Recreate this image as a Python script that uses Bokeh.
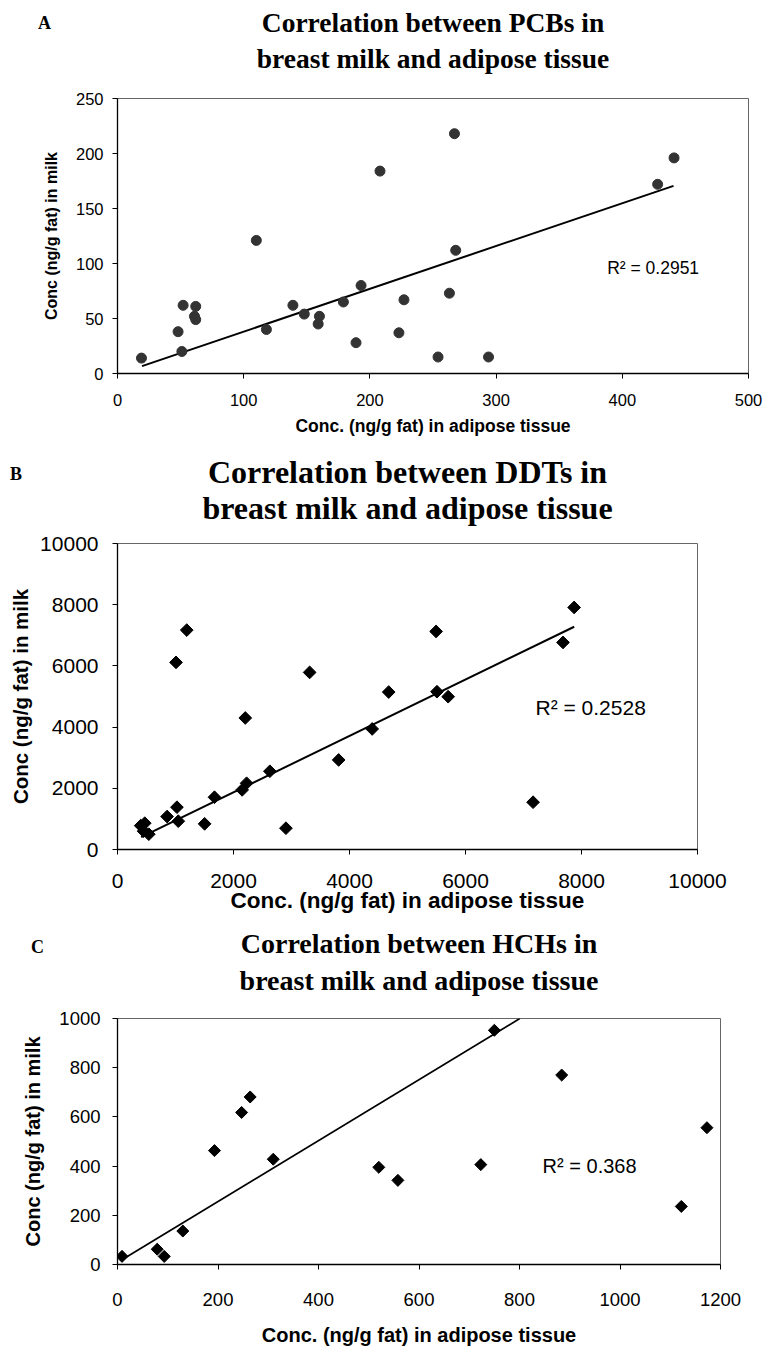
import numpy as np
from bokeh.plotting import figure
from bokeh.models import Label, FixedTicker, Range1d, Title
from bokeh.embed import file_html
from bokeh.resources import INLINE

# ---------------- data ----------------
# Panel A: PCBs
pcb_adipose = [19, 48, 51, 52, 62, 61, 62, 110, 118, 139, 148, 160, 159, 179,
               189, 193, 208, 223, 227, 254, 263, 267, 268, 294, 428, 441]
pcb_milk = [14, 38, 20, 62, 61, 52, 49, 121, 40, 62, 54, 52, 45, 65,
            28, 80, 184, 37, 67, 15, 73, 218, 112, 15, 172, 196]
pcb_trend_x = [19.4, 440.6]
pcb_trend_y = [6.7, 170.6]
pcb_r2 = "R\u00b2 = 0.2951"
pcb_title = ["Correlation between PCBs in", "breast milk and adipose tissue"]
pcb_xticks = [0, 100, 200, 300, 400, 500]
pcb_yticks = [0, 50, 100, 150, 200, 250]

# Panel B: DDTs
ddt_adipose = [400, 470, 450, 540, 855, 1009, 1025, 1048, 1194, 1502, 1672, 2149, 2203,
               2226, 2627, 2904, 3313, 3813, 4391, 4676, 5493, 5508, 5701, 7165, 7681, 7873]
ddt_milk = [780, 860, 600, 500, 1077, 6115, 1382, 925, 7170, 838, 1708, 1948, 4298,
            2165, 2557, 696, 5788, 2927, 3939, 5146, 7126, 5157, 4994, 1545, 6767, 7910]
ddt_trend_x = [408, 7874]
ddt_trend_y = [403, 7280]
ddt_r2 = "R\u00b2 = 0.2528"
ddt_title = ["Correlation between DDTs in", "breast milk and adipose tissue"]
ddt_xticks = [0, 2000, 4000, 6000, 8000, 10000]
ddt_yticks = [0, 2000, 4000, 6000, 8000, 10000]

# Panel C: HCHs
hch_adipose = [9, 79, 93, 130, 193, 247, 264, 310, 520, 558, 723, 750, 884, 1122, 1173]
hch_milk = [33, 62, 33, 136, 463, 618, 681, 428, 395, 342, 406, 952, 770, 236, 556]
hch_trend_x = [8.9, 800.6]
hch_trend_y = [19.6, 1000]
hch_r2 = "R\u00b2 = 0.368"
hch_title = ["Correlation between HCHs in", "breast milk and adipose tissue"]
hch_xticks = [0, 200, 400, 600, 800, 1000, 1200]
hch_yticks = [0, 200, 400, 600, 800, 1000]

panel_letters = ["A", "B", "C"]
x_label = "Conc. (ng/g fat) in adipose tissue"
y_label = "Conc (ng/g fat) in milk"

SANS = "Liberation Sans"
SERIF = "Liberation Serif"
W = 765


def panel(letter, title, xs, ys, tx, ty, r2, r2_xy, xticks, yticks,
          canvas_h, frame_w, frame_h, top, title_size, standoffs,
          letter_offset, tick_size, xlab_size, ylab_size, r2_size,
          marker, msize, mcolor, angle, xstand, ystand, xls, yls, lw):
    left = 117
    right = W - left - frame_w
    bottom = canvas_h - top - frame_h
    p = figure(width=W, height=canvas_h, output_backend="svg",
               toolbar_location=None, tools="",
               x_range=Range1d(0, xticks[-1]), y_range=Range1d(0, yticks[-1]),
               min_border_left=left, min_border_right=right,
               min_border_top=top, min_border_bottom=bottom)
    p.grid.visible = False
    p.background_fill_color = "white"
    p.border_fill_color = "white"
    p.outline_line_color = "#666666"
    p.outline_line_width = 1

    for ax in (p.xaxis, p.yaxis):
        ax.axis_line_color = "black"
        ax.axis_line_width = 1.3
        ax.major_tick_line_color = "black"
        ax.major_tick_out = 5
        ax.major_tick_in = 0
        ax.minor_tick_line_color = None
        ax.major_label_text_font = SANS
        ax.major_label_text_font_size = f"{tick_size}px"
        ax.major_label_text_color = "black"
        ax.axis_label_text_font = SANS
        ax.axis_label_text_font_style = "bold"
        ax.axis_label_text_color = "black"
    p.xaxis.axis_label_text_font_size = f"{xlab_size}px"
    p.yaxis.axis_label_text_font_size = f"{ylab_size}px"
    p.xaxis.ticker = FixedTicker(ticks=xticks)
    p.yaxis.ticker = FixedTicker(ticks=yticks)
    p.xaxis.axis_label = x_label
    p.yaxis.axis_label = y_label
    p.xaxis.major_label_standoff = xls
    p.yaxis.major_label_standoff = yls
    p.xaxis.axis_label_standoff = xstand
    p.yaxis.axis_label_standoff = ystand

    p.line(tx, ty, line_color="black", line_width=lw)
    p.scatter(xs, ys, marker=marker, size=msize, angle=angle,
              fill_color=mcolor, line_color=mcolor)

    p.add_layout(Label(x=r2_xy[0], y=r2_xy[1], text=r2, text_font=SANS,
                       text_font_size=f"{r2_size}px", text_color="black",
                       text_baseline="alphabetic"))

    # title rows, nearest to the frame first
    p.add_layout(Title(text=title[1], align="center", text_font=SERIF,
                       text_font_style="bold", text_font_size=f"{title_size}px",
                       text_color="black", standoff=standoffs[0]), "above")
    p.add_layout(Title(text=title[0], align="center", text_font=SERIF,
                       text_font_style="bold", text_font_size=f"{title_size}px",
                       text_color="black", standoff=standoffs[1]), "above")
    p.add_layout(Title(text=letter, align="left", offset=letter_offset,
                       text_font=SERIF, text_font_style="bold",
                       text_font_size="18px", text_color="black",
                       standoff=standoffs[2]), "above")
    return p


pA = panel(panel_letters[0], pcb_title, pcb_adipose, pcb_milk, pcb_trend_x,
           pcb_trend_y, pcb_r2, (388, 96), pcb_xticks, pcb_yticks,
           canvas_h=440, frame_w=631, frame_h=275, top=98,
           title_size=27.5, standoffs=(49.5, -45.3, -34), letter_offset=-79.5,
           tick_size=16.5, xlab_size=17.5, ylab_size=16, r2_size=17.5,
           marker="circle", msize=10, mcolor="#333333", angle=0,
           xstand=7, ystand=13, xls=15, yls=9, lw=2)

pB = panel(panel_letters[1], ddt_title, ddt_adipose, ddt_milk, ddt_trend_x,
           ddt_trend_y, ddt_r2, (7207, 4641), ddt_xticks, ddt_yticks,
           canvas_h=480, frame_w=580, frame_h=306, top=103,
           title_size=32, standoffs=(34.6, -38.4, -26.6), letter_offset=-107.5,
           tick_size=21, xlab_size=22.5, ylab_size=20.5, r2_size=21,
           marker="square", msize=9, mcolor="black", angle=np.pi / 4,
           xstand=-3, ystand=5, xls=19, yls=14, lw=2)

pC = panel(panel_letters[2], hch_title, hch_adipose, hch_milk, hch_trend_x,
           hch_trend_y, hch_r2, (846, 402), hch_xticks, hch_yticks,
           canvas_h=428, frame_w=603, frame_h=254, top=98,
           title_size=28, standoffs=(45.4, -36.4, -33.6), letter_offset=-86.5,
           tick_size=18.5, xlab_size=20, ylab_size=20, r2_size=20,
           marker="square", msize=8.5, mcolor="black", angle=np.pi / 4,
           xstand=15, ystand=12, xls=23, yls=12, lw=1.7)

open("out.html", "w").write(file_html([pA, pB, pC], INLINE))
